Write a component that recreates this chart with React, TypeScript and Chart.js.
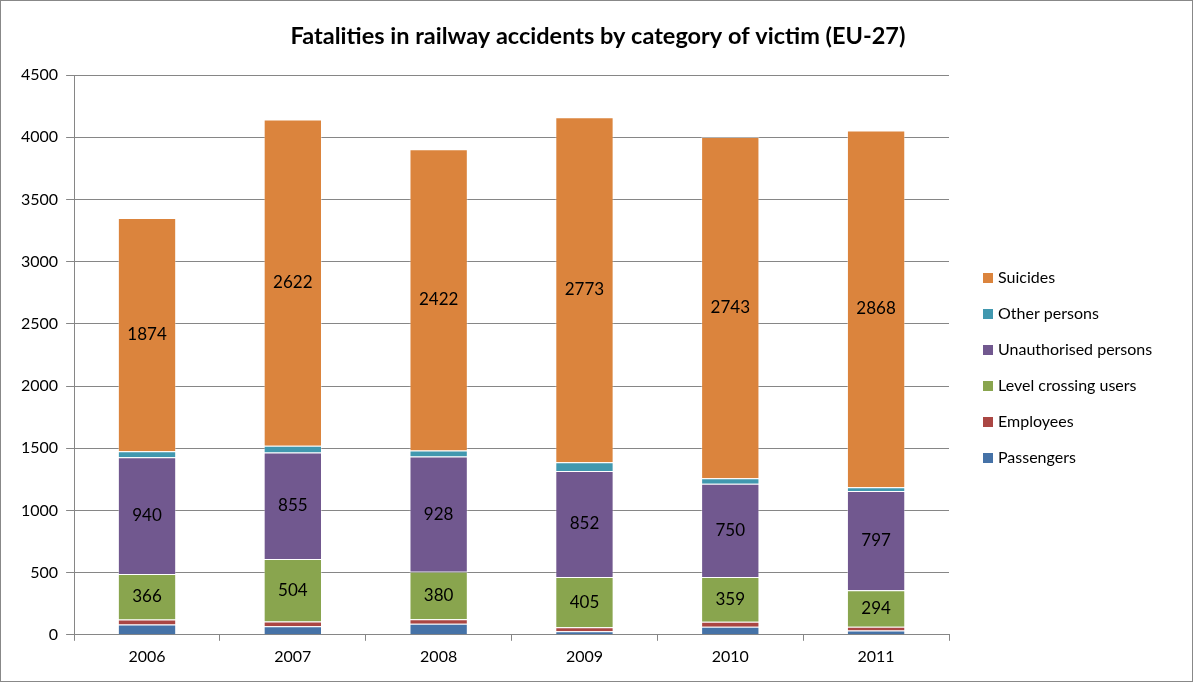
import React, { useEffect, useRef } from "react";
import { Chart, registerables } from "chart.js";

Chart.register(...registerables);

const years = ["2006", "2007", "2008", "2009", "2010", "2011"];
const passengers = [82, 68, 88, 28, 65, 35];
const employees = [40, 38, 38, 32, 40, 30];
const levelCrossing = [366, 504, 380, 405, 359, 294];
const unauthorised = [940, 855, 928, 852, 750, 797];
const otherPersons = [48, 55, 48, 70, 45, 30];
const suicides = [1874, 2622, 2422, 2773, 2743, 2868];
const yTicks = [0, 500, 1000, 1500, 2000, 2500, 3000, 3500, 4000, 4500];
const titleText = "Fatalities in railway accidents by category of victim (EU-27)";

const FONT = "Lato, 'Open Sans', sans-serif";

const seriesDefs = [
  { label: "Passengers", data: passengers, color: "#4572A7", showLabel: false },
  { label: "Employees", data: employees, color: "#AA4643", showLabel: false },
  { label: "Level crossing users", data: levelCrossing, color: "#89A54E", showLabel: true },
  { label: "Unauthorised persons", data: unauthorised, color: "#71588F", showLabel: true },
  { label: "Other persons", data: otherPersons, color: "#4198AF", showLabel: false },
  { label: "Suicides", data: suicides, color: "#DB843D", showLabel: true },
];

const labelPlugin = {
  id: "segLabels",
  afterDatasetsDraw(chart: any) {
    const ctx = chart.ctx;
    ctx.save();
    ctx.font = `17px ${FONT}`;
    ctx.fillStyle = "#000";
    ctx.textAlign = "center";
    ctx.textBaseline = "middle";
    chart.data.datasets.forEach((ds: any, i: number) => {
      if (!seriesDefs[i].showLabel) return;
      const meta = chart.getDatasetMeta(i);
      meta.data.forEach((bar: any, j: number) => {
        const y = (bar.y + bar.base) / 2;
        ctx.fillText(String(ds.data[j]), bar.x, y);
      });
    });
    ctx.restore();
  },
};

const legendPlugin = {
  id: "customLegend",
  afterDraw(chart: any) {
    const ctx = chart.ctx;
    ctx.save();
    ctx.font = `bold 23.5px ${FONT}`;
    ctx.fillStyle = "#000";
    ctx.textAlign = "center";
    ctx.textBaseline = "middle";
    ctx.fillText(titleText, 597, 35);
    ctx.font = `16px ${FONT}`;
    ctx.textAlign = "left";
    const items = [...seriesDefs].reverse();
    const x0 = 982;
    const y0 = 277;
    const gap = 36;
    items.forEach((it, k) => {
      const y = y0 + k * gap;
      ctx.fillStyle = it.color;
      ctx.fillRect(x0, y - 5, 10, 10);
      ctx.fillStyle = "#000";
      ctx.fillText(it.label, x0 + 15, y);
    });
    ctx.restore();
  },
};

export default function App() {
  const ref = useRef<HTMLCanvasElement>(null);
  useEffect(() => {
    const chart = new Chart(ref.current!, {
      type: "bar",
      data: {
        labels: years,
        datasets: seriesDefs.map((s) => ({
          label: s.label,
          data: s.data,
          backgroundColor: s.color,
          borderColor: "rgba(255,255,255,0.35)",
          borderWidth: 1,
          categoryPercentage: 1,
          barPercentage: 0.4,
        })),
      },
      options: {
        animation: false,
        responsive: false,
        maintainAspectRatio: false,
        layout: { padding: { left: 12, right: 243, top: 74, bottom: 9 } },
        plugins: {
          legend: { display: false },
          tooltip: { enabled: false },
          title: { display: false },
        },
        scales: {
          x: {
            stacked: true,
            grid: {
              offset: true,
              drawOnChartArea: false,
              drawTicks: true,
              tickLength: 6,
              color: "#868686",
            },
            border: { display: true, color: "#868686", width: 1 },
            ticks: { color: "#000", font: { family: FONT, size: 16 }, padding: 6 },
          },
          y: {
            stacked: true,
            min: 0,
            max: 4500,
            afterBuildTicks: (axis: any) => {
              axis.ticks = yTicks.map((v) => ({ value: v }));
            },
            grid: { color: "#868686", tickLength: 8 },
            border: { display: true, color: "#868686", width: 1 },
            ticks: {
              color: "#000",
              font: { family: FONT, size: 16 },
              padding: 8,
              callback: (v: any) => String(v),
            },
          },
        },
      },
      plugins: [labelPlugin, legendPlugin],
    });
    return () => chart.destroy();
  }, []);
  return (
    <div
      style={{
        position: "fixed",
        left: 0,
        top: 0,
        width: 1193,
        height: 682,
        boxSizing: "border-box",
        border: "1px solid #888",
        background: "#fff",
      }}
    >
      <canvas ref={ref} width={1191} height={680} style={{ display: "block" }} />
    </div>
  );
}
